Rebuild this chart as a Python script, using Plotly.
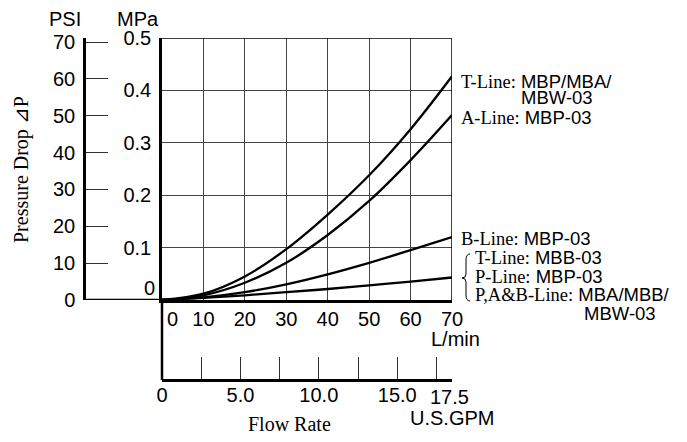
import plotly.graph_objects as go

OFF = 8  # page body margin in the browser
W, H = 687 - OFF, 442 - 2 * OFF  # figure fits the window without overflow

# ---- data ----
flow_lpm = [0, 10, 20, 30, 40, 50, 60, 70]
t_line_mpa = [0, 0.012, 0.045, 0.097, 0.163, 0.238, 0.326, 0.427]
a_line_mpa = [0, 0.009, 0.033, 0.071, 0.124, 0.189, 0.267, 0.353]
b_line_mpa = [0, 0.005, 0.015, 0.030, 0.049, 0.071, 0.095, 0.120]
p_line_mpa = [0, 0.004, 0.009, 0.015, 0.021, 0.028, 0.035, 0.043]

x_ticks = [10, 20, 30, 40, 50, 60, 70]
mpa_ticks = [0.1, 0.2, 0.3, 0.4, 0.5]
psi_ticks = [0, 10, 20, 30, 40, 50, 60, 70]
gpm_ticks = [0, 2.5, 5.0, 7.5, 10.0, 12.5, 15.0, 17.5]
gpm_text = ["0", "", "5.0", "", "10.0", "", "15.0", ""]

series_labels = [
    "T-Line: MBP/MBA/",
    "MBW-03",
    "A-Line: MBP-03",
    "B-Line: MBP-03",
    "T-Line: MBB-03",
    "P-Line: MBP-03",
    "P,A&B-Line: MBA/MBB/",
    "MBW-03",
]

SANS = "Liberation Sans, Arial, sans-serif"
SERIF = "Liberation Serif, Times New Roman, serif"


def px(x):
    return (x - OFF) / W


def py(y):
    return 1 - (y - OFF) / H


def mixed(label):
    if ":" in label:
        a, b = label.split(":", 1)
        return (f'<span style="font-family:{SERIF}">{a}:</span>'
                f'<span style="font-family:{SANS}">{b}</span>')
    return f'<span style="font-family:{SANS}">{label}</span>'


fig = go.Figure()
for ys in [t_line_mpa, a_line_mpa, b_line_mpa, p_line_mpa]:
    fig.add_trace(go.Scatter(x=flow_lpm, y=ys, mode="lines",
                             line=dict(color="black", width=2.3, shape="spline",
                                       smoothing=1.0),
                             showlegend=False, hoverinfo="skip"))

fig.add_trace(go.Scatter(x=[0], y=[0], yaxis="y2", mode="lines",
                         line=dict(width=0), showlegend=False, hoverinfo="skip"))
fig.add_trace(go.Scatter(x=[0], y=[0], xaxis="x2", mode="lines",
                         line=dict(width=0), showlegend=False, hoverinfo="skip"))

xdom = [px(162), px(452)]
ydom = [py(300), py(38)]

fig.update_layout(
    width=W, height=H,
    margin=dict(l=0, r=0, t=0, b=0, pad=0, autoexpand=False),
    paper_bgcolor="white", plot_bgcolor="white",
    font=dict(family=SANS, size=20, color="black"),
    xaxis=dict(domain=xdom, range=[0, 70], tickvals=x_ticks, automargin=False,
               ticks="", showgrid=True, gridcolor="#444", gridwidth=1,
               showline=True, linecolor="black", linewidth=2.5,
               zeroline=False, ticklabelstandoff=-1,
               tickfont=dict(size=20, family=SANS)),
    yaxis=dict(domain=ydom, range=[0, 0.5], tickvals=mpa_ticks, automargin=False,
               ticktext=[f"{v:.1f}" for v in mpa_ticks],
               ticks="", showgrid=True, gridcolor="#444", gridwidth=1,
               showline=True, linecolor="black", linewidth=2.5,
               zeroline=False, ticklabelstandoff=4,
               tickfont=dict(size=20, family=SANS)),
    yaxis2=dict(overlaying="y", anchor="free", position=px(84), side="left",
                automargin=False,
                range=[0, 71.1], tickvals=psi_ticks, ticks="inside",
                ticklen=22, tickwidth=1.2, tickcolor="#333",
                showline=True, linecolor="black", linewidth=2.5,
                showgrid=False, zeroline=False, ticklabelstandoff=4,
                tickfont=dict(size=20, family=SANS)),
    xaxis2=dict(overlaying="x", anchor="free", position=py(380), side="bottom",
                automargin=False,
                range=[0, 70 / 3.785411784], tickvals=gpm_ticks,
                ticktext=gpm_text, ticks="inside", ticklen=22,
                tickwidth=1.2, tickcolor="#333",
                showline=True, linecolor="black", linewidth=2.5,
                showgrid=False, zeroline=False, ticklabelstandoff=-4,
                tickfont=dict(size=20, family=SANS)),
)

shapes = []
shapes.append(dict(type="line", xref="x", yref="y", x0=0, x1=70, y0=0.5, y1=0.5,
                   line=dict(color="black", width=1.5)))
shapes.append(dict(type="line", xref="x", yref="y", x0=70, x1=70, y0=0, y1=0.5,
                   line=dict(color="black", width=1.5)))
shapes.append(dict(type="line", xref="paper", yref="y", x0=px(84), x1=px(163), y0=0, y1=0,
                   line=dict(color="black", width=2.5)))
shapes.append(dict(type="line", xref="paper", yref="paper", x0=px(162), x1=px(162),
                   y0=py(301), y1=py(380), line=dict(color="black", width=2.5)))
# blue frame edge at right (drawn as a filled strip)
shapes.append(dict(type="rect", xref="paper", yref="paper", x0=px(679), x1=px(683),
                   y0=-0.05, y1=1.05, line=dict(width=0), fillcolor="#0a8fd6",
                   layer="above"))
bx, top, mid, bot = 466, 254, 278, 301
path = (f"M {px(bx+4)},{py(top)} Q {px(bx)},{py(top)} {px(bx)},{py(top+6)} "
        f"L {px(bx)},{py(mid-4)} Q {px(bx)},{py(mid)} {px(bx-4)},{py(mid)} "
        f"Q {px(bx)},{py(mid)} {px(bx)},{py(mid+4)} "
        f"L {px(bx)},{py(bot-6)} Q {px(bx)},{py(bot)} {px(bx+4)},{py(bot)}")
shapes.append(dict(type="path", xref="paper", yref="paper", path=path,
                   line=dict(color="black", width=1)))
fig.update_layout(shapes=shapes)

ann = []


def text(x, y, t, size=20, family=SANS, xanchor="center", **kw):
    ann.append(dict(x=px(x), y=py(y), xref="paper", yref="paper", text=t,
                    showarrow=False, xanchor=xanchor, yanchor="middle",
                    font=dict(size=size, family=family, color="black"), **kw))


text(65, 19, "PSI")
text(138, 19, "MPa")
text(149, 288, "0")
text(22, 170, "Pressure Drop ⊿P", family=SERIF, textangle=-90)
text(455, 339, "L/min")
text(452, 418, "U.S.GPM")
ann.append(dict(x=px(289), y=0, xref="paper", yref="paper", text="Flow Rate",
                showarrow=False, xanchor="center", yanchor="bottom", yshift=-3,
                font=dict(size=20, family=SERIF, color="black")))
ann.append(dict(x=0, y=0, xref="x", yref="y", text="0", showarrow=False,
                xanchor="center", yanchor="top", xshift=10, yshift=-6,
                font=dict(size=20, family=SANS)))
ann.append(dict(x=17.5, y=py(397), xref="x2", yref="paper", text="17.5",
                showarrow=False, xanchor="center", yanchor="middle", xshift=13,
                font=dict(size=20, family=SANS)))

label_pos = [(459, 81), (519, 97), (459, 117), (459, 238),
             (473, 257), (473, 276), (473, 294), (582, 313)]
for (x, y), lab in zip(label_pos, series_labels):
    text(x, y, mixed(lab), size=18.5, xanchor="left")

fig.update_layout(annotations=ann)
fig.write_html("out.html")
